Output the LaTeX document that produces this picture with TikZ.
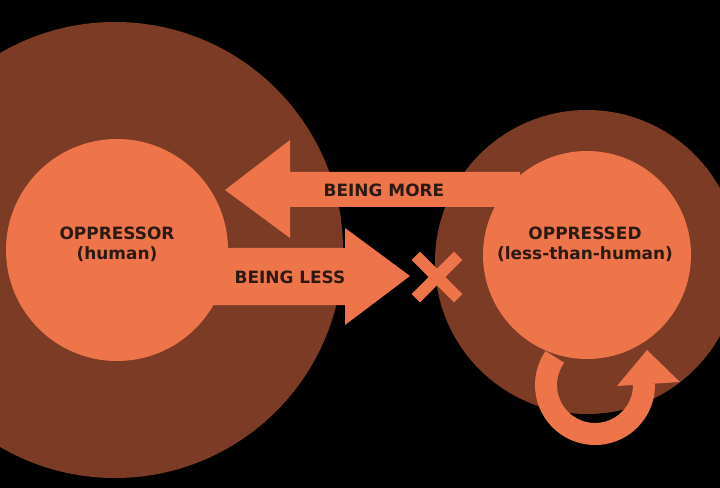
\documentclass[tikz,border=0pt]{standalone}
\usepackage{fontspec}
\setmainfont{DejaVu Sans}
\begin{document}
\begin{tikzpicture}[x=1bp,y=-1bp,
  lbl/.style={font=\bfseries\fontsize{17}{20}\selectfont,text=txt,align=center,inner sep=0pt}]
\definecolor{dk}{HTML}{7B3B24}
\definecolor{org}{HTML}{EE7549}
\definecolor{txt}{HTML}{2A1A12}
\fill[black] (0,0) rectangle (720,488);
\useasboundingbox (0,0) rectangle (720,488);
\begin{scope}
\clip (0,0) rectangle (720,488);
\fill[dk] (115,250) circle (228);
\fill[dk] (587,262) circle (152);
\fill[org] (117,250) circle (111);
\fill[org] (587,255) circle (104);
\end{scope}
% loop arrow
\draw[org,line width=22bp] (595,385) ++(215:49) arc (215:-2:49);
\fill[org] (617,386) -- (680,382) -- (647,350) -- cycle;
% BEING MORE arrow
\fill[org] (520,172) -- (290,172) -- (290,140) -- (225,190) -- (290,238) -- (290,207) -- (520,207) -- cycle;
% BEING LESS arrow
\fill[org] (200,248) -- (345,248) -- (345,228) -- (410,276) -- (345,325) -- (345,305) -- (200,305) -- cycle;
% X
\fill[org,rotate around={45:(437,277)}] (407,271) rectangle (467,283);
\fill[org,rotate around={-45:(437,277)}] (407,271) rectangle (467,283);
\node[lbl] (more) at (384,190) {BEING MORE};
\node[lbl] (less) at (290,277) {BEING LESS};
\node[lbl] (opr) at (117,244) {OPPRESSOR\\(human)};
\node[lbl] (opd) at (585,244) {OPPRESSED\\(less-than-human)};
\end{tikzpicture}
\end{document}
